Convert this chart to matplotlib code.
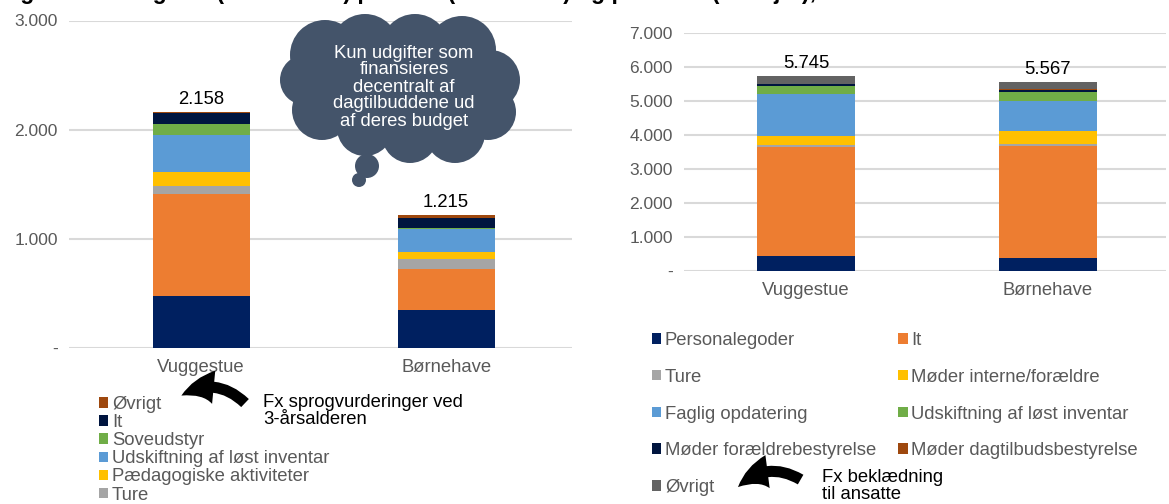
import numpy as np
import matplotlib
matplotlib.use("Agg")
import matplotlib.pyplot as plt
from matplotlib.patches import Circle, Ellipse, FancyArrowPatch

plt.rcParams['font.family'] = ['Liberation Sans', 'DejaVu Sans']

# data: left chart (kr. pr. barn)
cats = ["Vuggestue", "Børnehave"]
left_series = ["Personalegoder", "Forplejning", "Ture", "Pædagogiske aktiviteter",
               "Udskiftning af løst inventar", "Soveudstyr", "It", "Øvrigt"]
left_vals = [
    [475, 344],
    [934, 384],
    [73, 85],
    [132, 66],
    [340, 211],
    [94, 9],
    [101, 95],
    [9, 21],
]
left_totals = ["2.158", "1.215"]
left_colors = ["#002060", "#ED7D31", "#A5A5A5", "#FFC000", "#5B9BD5", "#70AD47", "#00153F", "#9E480E"]

# data: right chart (kr. pr. ansat)
right_series = ["Personalegoder", "It", "Ture", "Møder interne/forældre", "Faglig opdatering",
                "Udskiftning af løst inventar", "Møder forældrebestyrelse",
                "Møder dagtilbudsbestyrelse", "Øvrigt"]
right_vals = [
    [441, 373],
    [3216, 3294],
    [39, 59],
    [283, 382],
    [1236, 882],
    [226, 275],
    [59, 68],
    [10, 10],
    [235, 224],
]
right_totals = ["5.745", "5.567"]
right_colors = ["#002060", "#ED7D31", "#A5A5A5", "#FFC000", "#5B9BD5", "#70AD47", "#00153F", "#9E480E", "#636363"]

left_ticks = [0, 1000, 2000, 3000]
left_ticklabels = ["-", "1.000", "2.000", "3.000"]
right_ticks = [0, 1000, 2000, 3000, 4000, 5000, 6000, 7000]
right_ticklabels = ["-", "1.000", "2.000", "3.000", "4.000", "5.000", "6.000", "7.000"]

W, H = 1169, 504
fig = plt.figure(figsize=(W / 100, H / 100), dpi=100)
grey = "#595959"
fs = 13.3


def style_axes(ax, ticks, labels, ymax):
    ax.set_ylim(0, ymax)
    ax.set_yticks(ticks)
    ax.set_yticklabels(labels, fontsize=12.5, color=grey)
    ax.yaxis.grid(True, color="#D9D9D9", linewidth=1.5)
    ax.set_axisbelow(True)
    for s in ax.spines.values():
        s.set_visible(False)
    ax.tick_params(axis="both", length=0)
    ax.tick_params(axis="y", pad=8)
    ax.tick_params(axis="x", pad=8, labelsize=fs, labelcolor=grey)


def stacked(ax, vals, colors, names, width, totals):
    x = np.arange(len(cats))
    bottom = np.zeros(len(cats))
    handles = []
    for v, c, n in zip(vals, colors, names):
        b = ax.bar(x, v, width, bottom=bottom, color=c, label=n, edgecolor="none")
        handles.append(b)
        bottom += np.array(v)
    for xi, tot, lab in zip(x, bottom, totals):
        ax.annotate(lab, (xi, tot), xytext=(0, 3), textcoords="offset points",
                    ha="center", va="bottom", fontsize=fs, color="black")
    ax.set_xticks(x)
    ax.set_xticklabels(cats)
    return handles


# left chart
axl = fig.add_axes([69 / W, 1 - 348 / H, 503 / W, 327.5 / H])
hl = stacked(axl, left_vals, left_colors, left_series, 0.396, left_totals)
style_axes(axl, left_ticks, left_ticklabels, 3000)
axl.set_xlim(-0.539, 1.514)

# right chart
axr = fig.add_axes([684 / W, 1 - 271 / H, 482 / W, 238 / H])
hr = stacked(axr, right_vals, right_colors, right_series, 0.405, right_totals)
style_axes(axr, right_ticks, right_ticklabels, 7000)
axr.set_xlim(-0.504, 1.488)

# legends (left one runs off the bottom of the image, as in the original)
leg1 = fig.legend(hl[::-1], left_series[::-1], loc="upper left",
                  bbox_to_anchor=(99 / W, 1 - 396 / H), frameon=False, fontsize=fs,
                  labelcolor=grey, handlelength=0.5, handleheight=0.5, handletextpad=0.2,
                  labelspacing=0.06, borderaxespad=0, borderpad=0)
order = [0, 2, 4, 6, 8, 1, 3, 5, 7]
leg2 = fig.legend([hr[i] for i in order], [right_series[i] for i in order], loc="upper left",
                  bbox_to_anchor=(652 / W, 1 - 332 / H), frameon=False, fontsize=fs,
                  labelcolor=grey, ncol=2, handlelength=0.5, handleheight=0.5,
                  handletextpad=0.2, labelspacing=1.07, columnspacing=1.2,
                  borderaxespad=0, borderpad=0)

# title (cut off at top of image, only descenders show)
fig.text(0, 1 + 1.0 / H, "Figur 4.10: Udgifter (kroner/året) pr. barn (til venstre) "
         "og pr. ansat (til højre), 2019", fontsize=16.5, fontweight="bold",
         ha="left", va="baseline")

# overlay in pixel coordinates for cloud and arrows
ov = fig.add_axes([0, 0, 1, 1], zorder=10)
ov.set_xlim(0, W)
ov.set_ylim(H, 0)
ov.axis("off")

cloud = "#44546A"
ov.add_patch(Ellipse((402, 92), 200, 110, color=cloud, lw=0))
for cx, cy, r in [(325, 55, 35), (365, 48, 34), (415, 48, 34), (462, 50, 34), (490, 80, 30),
                  (488, 112, 28), (455, 133, 30), (410, 135, 28), (365, 128, 28),
                  (322, 110, 30), (305, 80, 25)]:
    ov.add_patch(Circle((cx, cy), r, color=cloud, lw=0))
ov.add_patch(Circle((367, 166), 12, color=cloud, lw=0))
ov.add_patch(Circle((359, 180), 7, color=cloud, lw=0))
ov.text(404, 87, "Kun udgifter som\nfinansieres\ndecentralt af\ndagtilbuddene ud\naf deres budget",
        color="white", fontsize=fs, ha="center", va="center", linespacing=1.0)

for a, b, (tx, ty), txt in [((247, 405), (179, 397), (263, 411), "Fx sprogvurderinger ved\n3-årsalderen"),
                            ((803, 481), (736, 489), (822, 486), "Fx beklædning\ntil ansatte")]:
    ov.add_patch(FancyArrowPatch(a, b, connectionstyle="arc3,rad=0.4",
                                 arrowstyle="simple,head_width=24,head_length=24,tail_width=8",
                                 color="black", lw=0))
    ov.text(tx, ty, txt, fontsize=fs, ha="left", va="center", linespacing=1.05)

fig.savefig("out.png", dpi=100)
